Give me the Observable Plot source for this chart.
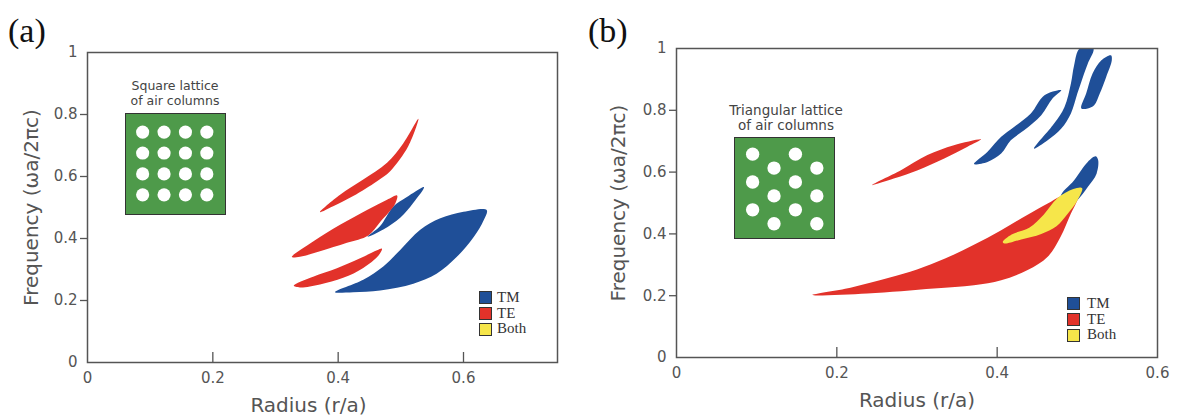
<!DOCTYPE html>
<html><head><meta charset="utf-8">
<script src="https://cdn.jsdelivr.net/npm/d3@7"></script>
<script src="https://cdn.jsdelivr.net/npm/@observablehq/plot@0.6"></script>
<style>
body{margin:0;background:#fff;}
#root{position:relative;width:1178px;height:417px;overflow:hidden;font-family:"DejaVu Sans",sans-serif;}
.panel{position:absolute;top:0;}
.plabel{position:absolute;font-family:"Liberation Serif",serif;font-size:34px;color:#111;line-height:1;}
.cap{position:absolute;text-align:center;color:#444;line-height:1;white-space:nowrap;transform:translateX(-50%);}
.leg{position:absolute;font-family:"Liberation Serif",serif;font-size:15px;color:#333;line-height:1;white-space:nowrap;}
.sw{position:absolute;width:11px;height:11px;border:1px solid #333;}
.inset{position:absolute;border:1.5px solid #333;box-sizing:border-box;overflow:hidden;}
.inset svg{position:absolute;left:-1.5px;top:-1.5px;}
</style></head><body><div id="root"></div>
<script>
// ---------- data ----------
const kinds = ["TM", "TE", "Both"];
const kindColors = ["#1f4f98", "#e2322a", "#f6e64a"];
const latticeGreen = "#4e9a4a";

// Panel (a): square lattice of air columns  [radius r/a, frequency ωa/2πc]
const aTM1 = [[0.447,0.406],[0.467,0.440],[0.488,0.503],[0.509,0.533],[0.537,0.566],[0.520,0.515],[0.499,0.467],[0.472,0.429]];
const aTE1 = [[0.371,0.485],[0.403,0.541],[0.440,0.590],[0.478,0.644],[0.504,0.707],[0.528,0.786],[0.512,0.698],[0.483,0.617],[0.462,0.585],[0.424,0.537],[0.392,0.504]];
const aTE2 = [[0.326,0.340],[0.360,0.390],[0.403,0.444],[0.446,0.492],[0.478,0.525],[0.494,0.539],[0.491,0.512],[0.467,0.453],[0.448,0.410],[0.414,0.386],[0.371,0.359],[0.339,0.341]];
const aTE3 = [[0.329,0.248],[0.360,0.277],[0.398,0.304],[0.435,0.336],[0.462,0.362],[0.470,0.367],[0.464,0.344],[0.440,0.305],[0.408,0.273],[0.371,0.252],[0.339,0.242]];
const aTM2 = [[0.395,0.227],[0.440,0.267],[0.472,0.310],[0.499,0.363],[0.531,0.428],[0.563,0.465],[0.600,0.486],[0.637,0.492],[0.632,0.458],[0.616,0.404],[0.589,0.340],[0.557,0.286],[0.520,0.254],[0.467,0.232],[0.424,0.227]];

// Panel (b): triangular lattice of air columns
const bTE1 = [[0.244,0.558],[0.280,0.606],[0.313,0.655],[0.346,0.687],[0.380,0.706],[0.363,0.682],[0.334,0.644],[0.301,0.606],[0.271,0.579]];
const bTM1 = [[0.371,0.626],[0.388,0.666],[0.405,0.714],[0.421,0.746],[0.442,0.790],[0.459,0.849],[0.480,0.865],[0.469,0.838],[0.455,0.784],[0.434,0.736],[0.417,0.703],[0.405,0.660],[0.388,0.633]];
const bTM2 = [[0.446,0.676],[0.471,0.757],[0.484,0.811],[0.492,0.887],[0.496,0.946],[0.503,1.0],[0.520,1.0],[0.513,0.951],[0.507,0.908],[0.500,0.854],[0.492,0.790],[0.480,0.741],[0.463,0.703]];
const bTM3 = [[0.505,0.806],[0.511,0.854],[0.519,0.919],[0.530,0.962],[0.542,0.978],[0.543,0.962],[0.536,0.908],[0.528,0.854],[0.521,0.816],[0.513,0.806]];
const bTM4 = [[0.479,0.520],[0.496,0.574],[0.513,0.633],[0.523,0.651],[0.526,0.638],[0.524,0.595],[0.513,0.552],[0.500,0.509],[0.488,0.480]];
const bTE2 = [[0.169,0.202],[0.217,0.226],[0.265,0.258],[0.300,0.285],[0.335,0.320],[0.371,0.365],[0.405,0.412],[0.438,0.462],[0.463,0.498],[0.479,0.522],[0.505,0.548],[0.500,0.509],[0.492,0.466],[0.479,0.390],[0.463,0.326],[0.438,0.283],[0.405,0.250],[0.371,0.234],[0.321,0.223],[0.238,0.207]];
const bBoth = [[0.407,0.374],[0.418,0.398],[0.440,0.420],[0.458,0.462],[0.475,0.515],[0.495,0.545],[0.506,0.548],[0.500,0.508],[0.488,0.465],[0.474,0.425],[0.455,0.400],[0.430,0.382],[0.409,0.369]];

// axes
const yTicks = [0, 0.2, 0.4, 0.6, 0.8, 1];
const yInnerTicks = [0.2, 0.4, 0.6, 0.8];
const xTicksA = [0, 0.2, 0.4, 0.6];
const xInnerA = [0.2, 0.4, 0.6];
const xTicksB = [0, 0.2, 0.4, 0.6];
const xInnerB = [0.2, 0.4];
const xLabel = "Radius (r/a)";
const yLabel = "Frequency (\u03c9a/2\u03c0c)";
const insetTitleA = ["Square lattice", "of air columns"];
const insetTitleB = ["Triangular lattice", "of air columns"];

// lattice insets: [column, row] indices
const squareLattice = [0,1,2,3].flatMap(r => [0,1,2,3].map(c => [c, r]));
const triLattice = [[0,0],[2,0],[1,1],[3,1],[0,2],[2,2],[1,3],[3,3],[0,4],[2,4],[1,5],[3,5]];

// ---------- build ----------
const table = list => list.flatMap(([id, kind, pts]) => pts.map(([r, f]) => ({id, kind, r, f})));
const dataA = table([["aTM1","TM",aTM1],["aTE1","TE",aTE1],["aTE2","TE",aTE2],["aTE3","TE",aTE3],["aTM2","TM",aTM2]]);
const dataB = table([["bTE1","TE",bTE1],["bTM1","TM",bTM1],["bTM2","TM",bTM2],["bTM3","TM",bTM3],["bTM4","TM",bTM4],["bTE2","TE",bTE2],["bBoth","Both",bBoth]]);

const root = document.getElementById("root");
const fmt = d => String(d);

function panel({data, width, ml, mr, mt, mb, xDomain, xTicks, xInner, xlabDx, ylabDx}) {
  const fh = 417 - mt - mb;
  return Plot.plot({
    width, height: 417, marginLeft: ml, marginRight: mr, marginTop: mt, marginBottom: mb,
    x: {domain: xDomain}, y: {domain: [0, 1]},
    color: {domain: kinds, range: kindColors},
    style: {fontFamily: "DejaVu Sans", fontSize: "15px", color: "#555", background: "transparent", overflow: "visible"},
    marks: [
      Plot.line(data, {x: "r", y: "f", z: "id", fill: "kind", stroke: "none", curve: "catmull-rom-closed", clip: true}),
      Plot.frame({stroke: "#555", strokeWidth: 1.5}),
      Plot.axisY(yTicks, {tickSize: 0, tickPadding: 10, tickFormat: fmt, label: null}),
      Plot.axisY(yInnerTicks, {tickSize: 7, tickFormat: () => "", label: null, stroke: "#555", strokeWidth: 1.3}),
      Plot.axisX(xTicks, {tickSize: 0, tickPadding: 10, tickFormat: fmt, label: null}),
      Plot.tickX(xInner, {x: d => d, insetTop: fh - 10, stroke: "#555", strokeWidth: 1.3}),
      Plot.text([xLabel], {text: d => d, frameAnchor: "bottom", textAnchor: "middle", lineAnchor: "middle", dy: 43, dx: xlabDx, fontSize: 20, fill: "#555"}),
      Plot.text([yLabel], {text: d => d, frameAnchor: "left", textAnchor: "middle", lineAnchor: "middle", dx: ylabDx, rotate: -90, fontSize: 20, fill: "#555"})
    ]
  });
}

const pa = panel({data: dataA, width: 580, ml: 87, mr: 23, mt: 52, mb: 55, xDomain: [0, 0.75], xTicks: xTicksA, xInner: xInnerA, xlabDx: -14, ylabDx: -56});
pa.classList.add("panel"); pa.style.left = "0px";
root.appendChild(pa);
const pb = panel({data: dataB, width: 598, ml: 96, mr: 21, mt: 48, mb: 60, xDomain: [0, 0.6], xTicks: xTicksB, xInner: xInnerB, xlabDx: 0, ylabDx: -58});
pb.classList.add("panel"); pb.style.left = "580px";
root.appendChild(pb);

function inset({left, top, w, h, pts, ml, mr, mt, mb, xd, yd, r}) {
  const div = document.createElement("div");
  div.className = "inset";
  Object.assign(div.style, {left: left + "px", top: top + "px", width: w + "px", height: h + "px", background: latticeGreen});
  const svg = Plot.plot({
    width: w, height: h, marginLeft: ml, marginRight: mr, marginTop: mt, marginBottom: mb,
    x: {domain: xd, axis: null}, y: {domain: yd, axis: null, reverse: true},
    style: {background: "transparent"},
    marks: [Plot.dot(pts, {x: d => d[0], y: d => d[1], r, fill: "white", stroke: "none"})]
  });
  div.appendChild(svg);
  root.appendChild(div);
}
inset({left: 125, top: 113, w: 101, h: 102, pts: squareLattice, ml: 17.5, mr: 18, mt: 19, mb: 19, xd: [0, 3], yd: [0, 3], r: 6.7});
inset({left: 734, top: 137, w: 101, h: 102, pts: triLattice, ml: 18.5, mr: 17, mt: 17, mb: 14, xd: [0, 3], yd: [0, 5], r: 6.8});

function caption(lines, cx, ys, size) {
  lines.forEach((t, i) => {
    const d = document.createElement("div");
    d.className = "cap"; d.textContent = t;
    Object.assign(d.style, {left: cx + "px", top: (ys[i] - size / 2) + "px", fontSize: size + "px"});
    root.appendChild(d);
  });
}
caption(insetTitleA, 175, [86, 101.5], 12.5);
caption(insetTitleB, 786, [111, 125.5], 13.5);

function legend(boxCx, textX, rowsY) {
  kinds.forEach((k, i) => {
    const s = document.createElement("div");
    s.className = "sw";
    Object.assign(s.style, {left: (boxCx - 6.5) + "px", top: (rowsY[i] - 6.5) + "px", background: kindColors[i]});
    root.appendChild(s);
    const t = document.createElement("div");
    t.className = "leg"; t.textContent = k;
    Object.assign(t.style, {left: textX + "px", top: (rowsY[i] - 8) + "px"});
    root.appendChild(t);
  });
}
legend(485, 497, [297.5, 313.5, 329]);
legend(1073, 1087, [303.5, 319.5, 335]);

[["(a)", 8], ["(b)", 588]].forEach(([t, x]) => {
  const d = document.createElement("div");
  d.className = "plabel"; d.textContent = t;
  Object.assign(d.style, {left: x + "px", top: "14px"});
  root.appendChild(d);
});
</script></body></html>
